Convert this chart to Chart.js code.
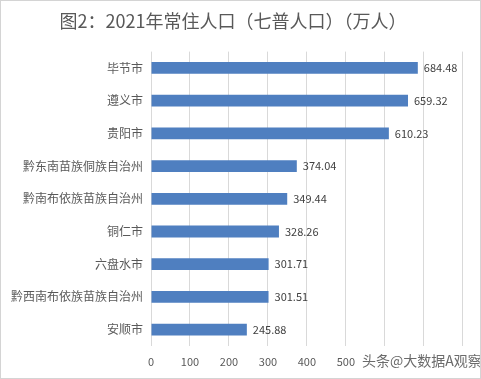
<!DOCTYPE html>
<html>
<head>
<meta charset="utf-8">
<script src="https://cdn.jsdelivr.net/npm/chart.js@4/dist/chart.umd.min.js"></script>
<style>
html,body{margin:0;padding:0;background:#fff;}
#wrap{width:481px;height:379px;position:relative;}
</style>
</head>
<body>
<div id="wrap"><canvas id="c" width="481" height="379"></canvas></div>
<script>
const titleText = '图2：2021年常住人口（七普人口）（万人）';
const categories = ['毕节市','遵义市','贵阳市','黔东南苗族侗族自治州','黔南布依族苗族自治州','铜仁市','六盘水市','黔西南布依族苗族自治州','安顺市'];
const population = [684.48, 659.32, 610.23, 374.04, 349.44, 328.26, 301.71, 301.51, 245.88];
const xTicks = [0,100,200,300,400,500,600,700,800];
const watermark = '头条@大数据A观察';

const FONT = '"Noto Sans CJK SC", "Noto Sans", sans-serif';

const bgPlugin = {
  id: 'bg',
  beforeDraw(chart) {
    const ctx = chart.ctx;
    ctx.save();
    ctx.fillStyle = '#fff';
    ctx.fillRect(0, 0, chart.width, chart.height);
    ctx.restore();
  },
  afterDraw(chart) {
    const ctx = chart.ctx;
    ctx.save();
    // data labels
    const meta = chart.getDatasetMeta(0);
    ctx.font = '11px ' + FONT;
    ctx.fillStyle = '#404040';
    ctx.textBaseline = 'middle';
    ctx.textAlign = 'left';
    meta.data.forEach((bar, i) => {
      ctx.fillText(population[i].toFixed(2), bar.x + 6, bar.y);
    });
    // watermark
    ctx.font = '14px ' + FONT;
    const w = ctx.measureText(watermark).width;
    const x = 362, y = 361;
    ctx.fillStyle = '#fff';
    ctx.fillRect(x - 2, y - 9, w + 4, 18);
    ctx.fillStyle = '#6b6b6b';
    ctx.fillText(watermark, x, y);
    // border
    ctx.strokeStyle = '#d4d4d4';
    ctx.lineWidth = 1;
    ctx.strokeRect(0.5, 0.5, chart.width - 1, chart.height - 1);
    ctx.restore();
  }
};

new Chart(document.getElementById('c'), {
  type: 'bar',
  data: {
    labels: categories,
    datasets: [{
      data: population,
      backgroundColor: '#4f7fc0',
      barPercentage: 0.72,
      categoryPercentage: 0.5
    }]
  },
  options: {
    indexAxis: 'y',
    responsive: false,
    animation: false,
    layout: { padding: { left: 0, right: 15, top: 0, bottom: 0 } },
    plugins: {
      legend: { display: false },
      tooltip: { enabled: false },
      title: {
        display: true,
        text: titleText,
        color: '#595959',
        font: { family: FONT, size: 18, weight: 'normal' },
        padding: { top: 10, bottom: 20 }
      }
    },
    scales: {
      x: {
        min: 0, max: 800,
        afterBuildTicks(scale) { scale.ticks = xTicks.map(v => ({ value: v })); },
        afterFit(scale) { scale.height = 33; },
        grid: { color: '#d9d9d9', drawTicks: false },
        border: { display: false },
        ticks: { color: '#595959', font: { family: FONT, size: 11 }, padding: 9 }
      },
      y: {
        afterFit(scale) { scale.width = 151; },
        grid: { display: false, drawTicks: false },
        border: { display: false },
        ticks: { color: '#595959', font: { family: FONT, size: 12 }, padding: 8 }
      }
    }
  },
  plugins: [bgPlugin]
});
</script>
</body>
</html>
